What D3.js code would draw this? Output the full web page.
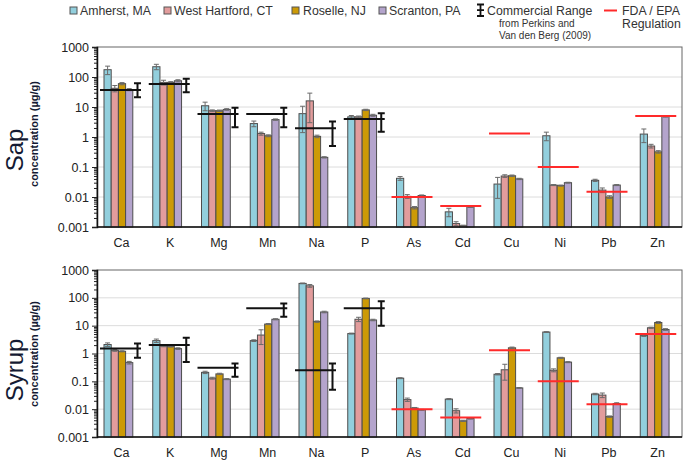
<!DOCTYPE html>
<html><head><meta charset="utf-8">
<script src="https://cdn.jsdelivr.net/npm/d3@7"></script>
<style>body{margin:0;background:#fff;}svg{display:block;font-family:"Liberation Sans",Arial,sans-serif;}</style>
</head><body><svg id="c" width="685" height="461"></svg>
<script>
const elements = ["Ca","K","Mg","Mn","Na","P","As","Cd","Cu","Ni","Pb","Zn"];
const sites = ["Amherst, MA","West Hartford, CT","Roselle, NJ","Scranton, PA"];
const colors = ["#92cfdd","#e29c9c","#cc9a06","#b4a4cc"];
const yTicks = [0.001,0.01,0.1,1,10,100,1000];
const yTickLabels = ["0.001","0.01","0.1","1","10","100","1000"];

// Sap means per element: [Amherst, West Hartford, Roselle, Scranton]
const sapAmherst  = [175,220,11,2.8,6,4.7,0.042,0.0032,0.027,1.1,0.036,1.25];
const sapWestH    = [42,66,7.5,1.3,16,4.7,0.0105,0.0013,0.05,0.025,0.017,0.5];
const sapRoselle  = [60,66,7.5,1.1,1.05,8,0.0044,0.0011,0.051,0.024,0.010,0.32];
const sapScranton = [38,75,8.3,3.8,0.21,5.3,0.0112,0.0047,0.04,0.03,0.025,4.8];
const sapErrAmherst  = [55,45,3.5,0.6,4.6,0.5,0.006,0.001,0.018,0.35,0.003,0.6];
const sapErrWestH    = [10,12,0.5,0.15,13,0.3,0.0015,0.0002,0.005,0.001,0.003,0.07];
const sapErrRoselle  = [5,4,0.4,0.08,0.1,0.4,0.0004,0.00005,0.003,0.001,0.001,0.03];
const sapErrScranton = [3,6,0.5,0.2,0.01,0.4,0.0005,0.0002,0.002,0.001,0.001,0.2];

const syrAmherst  = [2.1,2.9,0.21,2.9,330,5.2,0.13,0.023,0.18,5.9,0.035,4.4];
const syrWestH    = [1.3,1.85,0.13,4.6,270,17,0.022,0.0088,0.26,0.25,0.032,8.4];
const syrRoselle  = [1.2,1.8,0.185,11.4,14,95,0.011,0.0038,1.6,0.70,0.0054,13];
const syrScranton = [0.47,1.5,0.12,17,31,16,0.0095,0.0046,0.058,0.49,0.016,7.3];
const syrErrAmherst  = [0.3,0.4,0.02,0.2,10,0.2,0.005,0.001,0.01,0.2,0.002,0.3];
const syrErrWestH    = [0.1,0.1,0.01,2.5,30,3,0.003,0.0015,0.15,0.03,0.006,0.4];
const syrErrRoselle  = [0.05,0.1,0.01,0.5,0.8,3,0.0005,0.0002,0.1,0.03,0.0003,1];
const syrErrScranton = [0.05,0.1,0.005,0.8,2,1,0.0003,0.0002,0.002,0.02,0.001,0.5];

// Commercial range (Perkins & Van den Berg 2009): mean, min, max
const commElements = ["Ca","K","Mg","Mn","Na","P"];
const sapCommMean = [37,58,5.8,5.8,1.95,4.0];
const sapCommMin  = [21,31,2.1,2.1,0.5,1.5];
const sapCommMax  = [62,88,9.5,9.5,3.3,6.2];
const syrCommMean = [1.5,2.0,0.31,42,0.25,42];
const syrCommMin  = [0.7,0.5,0.145,21,0.05,10];
const syrCommMax  = [2.3,3.7,0.44,63,0.44,76];

// FDA / EPA regulation levels
const regElements = ["As","Cd","Cu","Ni","Pb","Zn"];
const regValues = [0.01,0.005,1.3,0.1,0.015,5];

const svg = d3.select("#c");
const left = 97, right = 682;
const x = d3.scaleBand().domain(elements).range([left,right]).padding(0);
const bw = x.bandwidth();
const barW = 7.2, barOff = 7;
const titleColor = "#141a33";

function panel(top, bottom, title, means, errs, cMean, cMin, cMax, labelY, titleY, subY) {
  const y = d3.scaleLog().domain([0.001,1000]).range([bottom, top]);
  const g = svg.append("g");
  g.selectAll("line.grid").data(yTicks.slice(1,-1)).join("line")
    .attr("x1",left).attr("x2",right).attr("y1",d=>y(d)).attr("y2",d=>y(d))
    .attr("stroke","#dcdcdc").attr("stroke-width",1);
  g.append("rect").attr("x",left).attr("y",top).attr("width",right-left).attr("height",bottom-top)
    .attr("fill","none").attr("stroke","#666").attr("stroke-width",1);
  sites.forEach((s,si)=>{
    const vals = means[si], ee = errs[si];
    g.selectAll(null).data(elements).join("rect")
      .attr("x",d=>x(d)+barOff+si*barW).attr("width",barW)
      .attr("y",(d,i)=>y(vals[i])).attr("height",(d,i)=>bottom-y(vals[i]))
      .attr("fill",colors[si]).attr("stroke","#4d4d4d").attr("stroke-width",1);
    g.selectAll(null).data(elements).join("path")
      .attr("d",(d,i)=>{
        const cx = x(d)+barOff+si*barW+barW/2;
        const hi = y(vals[i]+ee[i]);
        const lo = y(Math.max(vals[i]-ee[i],0.001));
        return `M${cx-2.5},${hi}H${cx+2.5}M${cx},${hi}V${lo}M${cx-2.5},${lo}H${cx+2.5}`;
      })
      .attr("stroke","#6a6a6a").attr("stroke-width",1).attr("fill","none");
  });
  commElements.forEach((e,i)=>{
    const x0 = x(e);
    g.append("line").attr("x1",x0+3).attr("x2",x0+44).attr("y1",y(cMean[i])).attr("y2",y(cMean[i]))
      .attr("stroke","#111").attr("stroke-width",2);
    const ex = x0+40.5;
    g.append("path").attr("d",`M${ex-3.5},${y(cMax[i])}H${ex+3.5}M${ex},${y(cMax[i])}V${y(cMin[i])}M${ex-3.5},${y(cMin[i])}H${ex+3.5}`)
      .attr("stroke","#111").attr("stroke-width",2).attr("fill","none");
  });
  regElements.forEach((e,i)=>{
    const x0 = x(e);
    g.append("line").attr("x1",x0+2).attr("x2",x0+43).attr("y1",y(regValues[i])).attr("y2",y(regValues[i]))
      .attr("stroke","#ff2a2a").attr("stroke-width",2);
  });
  const minor = [];
  for (let p=-3;p<3;p++) for (let k=2;k<=9;k++) minor.push(k*Math.pow(10,p));
  const ax = g.append("g").attr("transform",`translate(${left},0)`)
    .call(d3.axisLeft(y).tickValues(yTicks).tickFormat((d,i)=>yTickLabels[i]).tickSize(5).tickPadding(3));
  g.append("g").attr("transform",`translate(${left},0)`)
    .call(d3.axisLeft(y).tickValues(minor).tickFormat("").tickSize(3))
    .call(a=>a.select(".domain").remove());
  ax.selectAll("text").attr("font-size",12.5).attr("fill","#222").attr("font-family","Liberation Sans, Arial, sans-serif");
  g.selectAll(".tick line").attr("stroke","#222");
  ax.select(".domain").attr("stroke","#111").attr("stroke-width",1.5);
  g.append("line").attr("x1",left).attr("x2",right).attr("y1",bottom).attr("y2",bottom).attr("stroke","#111").attr("stroke-width",1.5);
  g.selectAll(null).data(elements).join("text")
    .attr("x",d=>x(d)+bw/2).attr("y",labelY).attr("text-anchor","middle")
    .attr("font-size",12.5).attr("fill","#222").text(d=>d);
  g.append("text").attr("transform",`translate(22.5,${titleY}) rotate(-90)`).attr("text-anchor","middle")
    .attr("font-size",24).attr("fill",titleColor).text(title);
  g.append("text").attr("transform",`translate(37.5,${subY}) rotate(-90)`).attr("text-anchor","middle")
    .attr("font-size",11).attr("font-weight","bold").attr("fill",titleColor).text("concentration (µg/g)");
}

panel(47,227,"Sap",[sapAmherst,sapWestH,sapRoselle,sapScranton],
  [sapErrAmherst,sapErrWestH,sapErrRoselle,sapErrScranton],sapCommMean,sapCommMin,sapCommMax,247,150,134);
panel(270,437,"Syrup",[syrAmherst,syrWestH,syrRoselle,syrScranton],
  [syrErrAmherst,syrErrWestH,syrErrRoselle,syrErrScranton],syrCommMean,syrCommMin,syrCommMax,457,370,354);

// legend
const lg = svg.append("g");
const legSwX = [70,164,292,379];
const legTxX = [80,174,303,389];
sites.forEach((s,i)=>{
  lg.append("rect").attr("x",legSwX[i]).attr("y",7).attr("width",7).attr("height",7)
    .attr("fill",colors[i]).attr("stroke","#555").attr("stroke-width",1);
  lg.append("text").attr("x",legTxX[i]).attr("y",15).attr("font-size",12.3).attr("fill","#333").text(s);
});
lg.append("path").attr("d","M477,4.5H484M480.5,4.5V16M477,16H484M477,10.2H484").attr("stroke","#111").attr("stroke-width",1.8).attr("fill","none");
lg.append("text").attr("x",487).attr("y",15).attr("font-size",12.3).attr("fill","#333").text("Commercial Range");
lg.append("text").attr("x",499).attr("y",27).attr("font-size",10).attr("fill","#333").text("from Perkins and");
lg.append("text").attr("x",499).attr("y",39).attr("font-size",10).attr("fill","#333").text("Van den Berg (2009)");
lg.append("line").attr("x1",604).attr("x2",617).attr("y1",10.5).attr("y2",10.5).attr("stroke","#ff2a2a").attr("stroke-width",2);
lg.append("text").attr("x",622).attr("y",15).attr("font-size",12.3).attr("fill","#333").text("FDA / EPA");
lg.append("text").attr("x",622).attr("y",28).attr("font-size",12.3).attr("fill","#333").text("Regulation");
</script></body></html>
